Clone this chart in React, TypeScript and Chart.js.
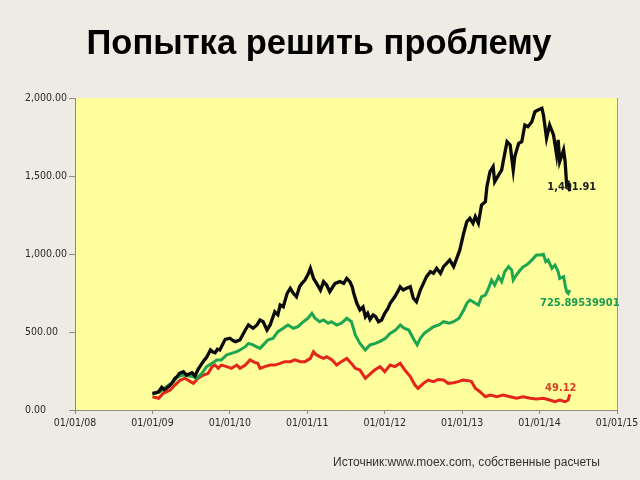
import React, { useEffect, useRef } from "react";
import { Chart, registerables } from "chart.js";

Chart.register(...registerables);

const TITLE = "Попытка решить проблему";
const SOURCE = "Источник:www.moex.com, собственные расчеты";

const xTickYears = [2008, 2009, 2010, 2011, 2012, 2013, 2014, 2015];
const yTickValues = [0, 500, 1000, 1500, 2000];

const blackYears = [
  2009.0, 2009.05, 2009.08, 2009.12, 2009.15, 2009.18, 2009.22, 2009.25, 2009.29, 2009.32,
  2009.35, 2009.4, 2009.44, 2009.48, 2009.51, 2009.55, 2009.59, 2009.64, 2009.67, 2009.7,
  2009.75, 2009.78, 2009.81, 2009.84, 2009.87, 2009.94, 2010.0, 2010.04, 2010.07, 2010.13,
  2010.2, 2010.24, 2010.3, 2010.35, 2010.39, 2010.43, 2010.48, 2010.52, 2010.58, 2010.62,
  2010.65, 2010.69, 2010.74, 2010.78, 2010.82, 2010.86, 2010.9, 2010.93, 2010.97, 2011.01,
  2011.04, 2011.08, 2011.12, 2011.17, 2011.21, 2011.25, 2011.29, 2011.33, 2011.36, 2011.42,
  2011.47, 2011.51, 2011.55, 2011.58, 2011.6, 2011.64, 2011.68, 2011.72, 2011.75, 2011.78,
  2011.81, 2011.85, 2011.88, 2011.92, 2011.96, 2012.0, 2012.04, 2012.07, 2012.13, 2012.17,
  2012.2, 2012.24, 2012.28, 2012.33, 2012.37, 2012.41, 2012.46, 2012.5, 2012.54, 2012.59,
  2012.63, 2012.67, 2012.72, 2012.76, 2012.8, 2012.84, 2012.89, 2012.93, 2012.97, 2013.02,
  2013.06, 2013.1, 2013.14, 2013.17, 2013.21, 2013.25, 2013.3, 2013.32, 2013.36, 2013.4,
  2013.42, 2013.47, 2013.51, 2013.53, 2013.58, 2013.62, 2013.66, 2013.68, 2013.73, 2013.77,
  2013.81, 2013.85, 2013.9, 2013.94, 2013.98, 2014.03, 2014.05, 2014.09, 2014.13, 2014.18,
  2014.22, 2014.24, 2014.26, 2014.31, 2014.33, 2014.35, 2014.37, 2014.39,
];
const blackValues = [
  107, 112, 117, 145, 130, 139, 155, 171, 203, 215,
  235, 246, 224, 232, 239, 218, 261, 299, 320, 338,
  385, 372, 367, 390, 385, 453, 460, 445, 438, 449,
  513, 545, 524, 545, 577, 566, 513, 545, 630, 610,
  673, 662, 748, 780, 748, 726, 790, 812, 833, 870,
  908, 844, 812, 769, 823, 801, 758, 790, 812, 823,
  812, 844, 823, 790, 748, 684, 641, 660, 598, 620,
  580, 609, 600, 566, 577, 620, 650, 684, 726, 760,
  790, 769, 780, 790, 716, 694, 769, 812, 855, 887,
  876, 908, 876, 919, 940, 962, 919, 972, 1026, 1133,
  1207, 1229, 1197, 1240, 1197, 1314, 1335, 1432, 1528, 1560,
  1463, 1506, 1538, 1592, 1720, 1699, 1538, 1624, 1709, 1720,
  1827, 1816, 1848, 1912, 1923, 1934, 1891, 1742, 1827, 1763,
  1635, 1731, 1592, 1667, 1592, 1442, 1453, 1402,
];

const greenYears = [
  2009.0, 2009.1, 2009.18, 2009.27, 2009.33, 2009.4, 2009.46, 2009.53, 2009.57, 2009.64,
  2009.7, 2009.77, 2009.83, 2009.89, 2009.96, 2010.02, 2010.09, 2010.13, 2010.2, 2010.24,
  2010.3, 2010.34, 2010.39, 2010.45, 2010.49, 2010.56, 2010.62, 2010.69, 2010.75, 2010.82,
  2010.88, 2010.95, 2011.01, 2011.06, 2011.1, 2011.16, 2011.21, 2011.27, 2011.31, 2011.38,
  2011.44, 2011.51, 2011.57, 2011.62, 2011.68, 2011.75, 2011.81, 2011.88, 2011.94, 2012.01,
  2012.07, 2012.14, 2012.2, 2012.25, 2012.31, 2012.38, 2012.42, 2012.46, 2012.51, 2012.57,
  2012.63, 2012.7, 2012.76, 2012.83, 2012.89, 2012.96, 2013.02, 2013.06, 2013.1, 2013.14,
  2013.17, 2013.21, 2013.25, 2013.3, 2013.34, 2013.38, 2013.42, 2013.47, 2013.51, 2013.55,
  2013.6, 2013.64, 2013.66, 2013.7, 2013.75, 2013.79, 2013.83, 2013.88, 2013.92, 2013.96,
  2014.01, 2014.05, 2014.08, 2014.11, 2014.16, 2014.2, 2014.24, 2014.26, 2014.31, 2014.33,
  2014.35, 2014.37, 2014.39,
];
const greenValues = [
  103, 117, 150, 182, 214, 224, 218, 214, 203, 235,
  278, 299, 321, 321, 353, 363, 374, 385, 406, 427,
  417, 406, 395, 427, 449, 460, 502, 524, 545, 524,
  534, 566, 588, 620, 588, 566, 577, 556, 566, 545,
  556, 588, 566, 481, 427, 385, 417, 427, 440, 460,
  491, 513, 545, 524, 513, 449, 417, 460, 491, 513,
  534, 545, 566, 556, 566, 588, 641, 684, 705, 694,
  684, 673, 726, 737, 780, 833, 801, 855, 823, 887,
  919, 897, 833, 865, 897, 919, 929, 951, 972, 994,
  994, 998, 951, 962, 908, 929, 887, 844, 855, 801,
  758, 748, 769,
];

const redYears = [
  2009.0, 2009.08, 2009.14, 2009.23, 2009.29, 2009.36, 2009.42, 2009.49, 2009.53, 2009.59,
  2009.66, 2009.72, 2009.77, 2009.81, 2009.85, 2009.89, 2009.96, 2010.02, 2010.09, 2010.13,
  2010.2, 2010.26, 2010.32, 2010.36, 2010.39, 2010.45, 2010.52, 2010.58, 2010.65, 2010.71,
  2010.78, 2010.84, 2010.91, 2010.97, 2011.04, 2011.08, 2011.12, 2011.16, 2011.21, 2011.25,
  2011.32, 2011.38, 2011.44, 2011.51, 2011.57, 2011.62, 2011.68, 2011.75, 2011.81, 2011.87,
  2011.94, 2012.0, 2012.07, 2012.13, 2012.2, 2012.26, 2012.33, 2012.39, 2012.43, 2012.5,
  2012.56, 2012.63, 2012.69, 2012.76, 2012.82, 2012.89, 2012.95, 2013.01, 2013.08, 2013.12,
  2013.17, 2013.23, 2013.3, 2013.36, 2013.45, 2013.53, 2013.62, 2013.7, 2013.79, 2013.88,
  2013.96, 2014.05, 2014.13, 2014.2, 2014.26, 2014.33, 2014.37, 2014.39,
];
const redValues = [
  85, 75, 107, 128, 160, 192, 203, 182, 171, 203,
  224, 235, 278, 288, 267, 288, 278, 267, 288, 267,
  288, 321, 305, 299, 267, 278, 288, 288, 299, 310,
  310, 321, 310, 310, 331, 374, 353, 342, 331, 342,
  321, 288, 310, 331, 299, 267, 256, 203, 230, 256,
  278, 246, 288, 278, 299, 256, 214, 160, 139, 171,
  192, 182, 196, 192, 171, 175, 182, 192, 188, 182,
  139, 117, 85, 96, 85, 96, 85, 75, 85, 75,
  71, 75, 64, 53, 64, 53, 64, 100,
];

const seriesColors = ["#0b0b0b", "#1ea550", "#e4261a"];
const endLabels = ["1,401.91", "725.89539901", "49.12"];
const endLabelColors = ["#1e1e1e", "#1f9a52", "#d8402a"];

const toPoints = (xs: number[], ys: number[]) => xs.map((x, i) => ({ x, y: ys[i] }));

const decorPlugin = {
  id: "decor",
  beforeDraw(chart: any) {
    const { ctx, chartArea: a } = chart;
    ctx.save();
    ctx.fillStyle = "#edebe3";
    ctx.fillRect(0, 0, chart.width, chart.height);
    ctx.fillStyle = "#fefe9c";
    ctx.fillRect(a.left, a.top, a.right - a.left, a.bottom - a.top);
    ctx.restore();
  },
  afterDraw(chart: any) {
    const { ctx, chartArea: a } = chart;
    ctx.save();
    ctx.strokeStyle = "#9a9a8e";
    ctx.lineWidth = 1;
    ctx.beginPath();
    ctx.moveTo(a.right + 0.5, a.top);
    ctx.lineTo(a.right + 0.5, a.bottom);
    ctx.stroke();

    ctx.fillStyle = "#000";
    ctx.font = "bold 34.5px 'Liberation Sans', Arial, sans-serif";
    ctx.textAlign = "center";
    ctx.textBaseline = "alphabetic";
    ctx.fillText(TITLE, 319, 54);

    ctx.fillStyle = "#333";
    ctx.font = "12px 'Liberation Sans', Arial, sans-serif";
    ctx.textAlign = "left";
    ctx.fillText(SOURCE, 333, 466);

    const offsets = [
      [2, -4],
      [10, 13],
      [-9, -6],
    ];
    ctx.font = "bold 11px 'DejaVu Sans Condensed', 'DejaVu Sans', sans-serif";
    ctx.textAlign = "center";
    ctx.textBaseline = "middle";
    endLabels.forEach((txt, i) => {
      const meta = chart.getDatasetMeta(i);
      const last = meta.data[meta.data.length - 1];
      ctx.fillStyle = endLabelColors[i];
      ctx.fillText(txt, last.x + offsets[i][0], last.y + offsets[i][1]);
    });
    ctx.restore();
  },
};

export default function App() {
  const ref = useRef<HTMLCanvasElement | null>(null);
  useEffect(() => {
    if (!ref.current) return;
    const tickFont = { family: "'DejaVu Sans Condensed', 'DejaVu Sans', sans-serif", size: 10.5 };
    const chart = new Chart(ref.current, {
      type: "line",
      data: {
        datasets: [
          { label: "black", data: toPoints(blackYears, blackValues), borderColor: seriesColors[0], borderWidth: 3.3 },
          { label: "green", data: toPoints(greenYears, greenValues), borderColor: seriesColors[1], borderWidth: 3 },
          { label: "red", data: toPoints(redYears, redValues), borderColor: seriesColors[2], borderWidth: 3 },
        ].map((d) => ({ ...d, pointRadius: 0, tension: 0, fill: false })),
      },
      options: {
        responsive: false,
        animation: false,
        devicePixelRatio: 1,
        layout: { padding: { left: 25, right: 23, top: 98, bottom: 40 } },
        plugins: { legend: { display: false }, tooltip: { enabled: false }, title: { display: false } },
        scales: {
          x: {
            type: "linear",
            min: 2008,
            max: 2015,
            afterBuildTicks: (s: any) => {
              s.ticks = xTickYears.map((v) => ({ value: v }));
            },
            afterFit: (s: any) => {
              s.height = 30;
              s.paddingLeft = 0;
              s.paddingRight = 0;
            },
            ticks: {
              autoSkip: false,
              maxRotation: 0,
              padding: 3,
              color: "#2a2a2a",
              font: tickFont,
              callback: (v: any) => "01/01/" + String(v).slice(2),
            },
            grid: { display: true, drawOnChartArea: false, drawTicks: true, tickLength: 4, color: "#8c8c80" },
            border: { display: true, color: "#8c8c80", width: 1 },
          },
          y: {
            min: 0,
            max: 2000,
            afterBuildTicks: (s: any) => {
              s.ticks = yTickValues.map((v) => ({ value: v }));
            },
            afterFit: (s: any) => {
              s.width = 50;
            },
            ticks: {
              crossAlign: "far",
              padding: 0,
              color: "#2a2a2a",
              font: tickFont,
              callback: (v: any) =>
                Number(v).toLocaleString("en-US", { minimumFractionDigits: 2, maximumFractionDigits: 2 }),
            },
            grid: { display: true, drawOnChartArea: false, drawTicks: true, tickLength: 6, color: "#8c8c80" },
            border: { display: true, color: "#8c8c80", width: 1 },
          },
        },
      },
      plugins: [decorPlugin],
    } as any);
    return () => chart.destroy();
  }, []);
  return (
    <div style={{ position: "absolute", left: 0, top: 0, width: 640, height: 480 }}>
      <canvas ref={ref} width={640} height={480} style={{ display: "block", width: 640, height: 480 }} />
    </div>
  );
}
